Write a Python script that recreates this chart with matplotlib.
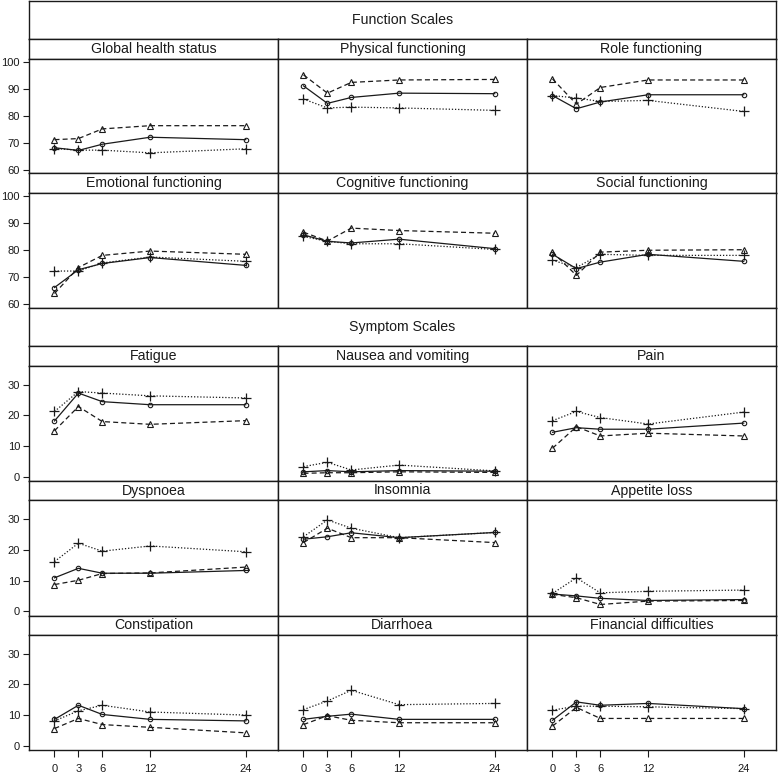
import matplotlib.pyplot as plt

plt.rcParams['font.family'] = ['Liberation Sans', 'DejaVu Sans']

months = [0, 3, 6, 12, 24]

function_titles = ["Global health status", "Physical functioning", "Role functioning",
                   "Emotional functioning", "Cognitive functioning", "Social functioning"]
symptom_titles = ["Fatigue", "Nausea and vomiting", "Pain",
                  "Dyspnoea", "Insomnia", "Appetite loss",
                  "Constipation", "Diarrhoea", "Financial difficulties"]

# one row per scale, function scales first then symptom scales
circle_vals = [
    [68.2, 67.2, 69.5, 72.1, 71.2],
    [91.2, 84.7, 86.9, 88.5, 88.3],
    [87.6, 82.7, 85.2, 87.9, 87.9],
    [66.2, 72.8, 75.1, 77.3, 74.4],
    [85.7, 83.3, 82.7, 84.1, 80.6],
    [78.5, 73.2, 75.6, 78.5, 75.9],
    [18.2, 27.3, 24.5, 23.5, 23.5],
    [1.6, 2.0, 1.6, 2.0, 1.8],
    [14.5, 16.0, 15.5, 15.5, 17.5],
    [10.9, 14.0, 12.4, 12.4, 13.3],
    [23.5, 24.3, 25.6, 24.0, 25.7],
    [5.6, 5.0, 4.2, 3.5, 3.8],
    [8.6, 13.2, 10.2, 8.6, 8.1],
    [8.6, 9.6, 10.3, 8.6, 8.6],
    [8.3, 14.3, 13.2, 13.8, 12.1],
]
triangle_vals = [
    [71.2, 71.6, 75.2, 76.4, 76.4],
    [95.3, 88.5, 92.5, 93.4, 93.6],
    [93.8, 84.4, 90.6, 93.4, 93.4],
    [64.0, 73.6, 78.1, 79.7, 78.5],
    [86.7, 83.4, 88.2, 87.3, 86.3],
    [79.3, 70.7, 79.3, 80.0, 80.2],
    [15.0, 22.9, 18.0, 17.1, 18.3],
    [1.1, 1.3, 1.3, 1.6, 1.4],
    [9.3, 16.3, 13.3, 14.2, 13.3],
    [8.7, 10.1, 12.3, 12.5, 14.4],
    [22.4, 27.1, 24.0, 24.0, 22.4],
    [5.5, 4.4, 2.2, 3.3, 3.5],
    [5.6, 8.9, 6.9, 6.0, 4.2],
    [6.9, 9.8, 8.3, 7.5, 7.5],
    [6.4, 12.5, 8.9, 8.9, 8.9],
]
plus_vals = [
    [67.9, 67.3, 67.3, 66.3, 67.8],
    [86.3, 83.0, 83.3, 83.0, 82.1],
    [87.6, 86.7, 85.4, 85.8, 81.7],
    [72.3, 72.3, 75.3, 77.5, 75.9],
    [85.1, 83.3, 82.4, 82.4, 80.3],
    [76.3, 73.6, 78.5, 78.1, 78.1],
    [21.3, 27.8, 27.3, 26.4, 25.7],
    [3.3, 4.7, 2.2, 3.8, 1.9],
    [18.3, 21.3, 19.3, 17.2, 21.1],
    [16.2, 22.2, 19.6, 21.3, 19.4],
    [24.3, 29.8, 27.1, 24.0, 25.7],
    [5.8, 10.9, 6.0, 6.5, 6.9],
    [8.1, 11.4, 13.2, 11.0, 10.0],
    [11.8, 14.6, 18.1, 13.4, 13.8],
    [11.6, 12.9, 12.9, 12.7, 12.1],
]

W, H = 778, 773
fig = plt.figure(figsize=(W / 100, H / 100), dpi=100)
ink = '#1a1a1a'


def box(x0, y0, x1, y1):
    # pixel box (top-left origin) -> figure fraction
    return [x0 / W, 1 - y1 / H, (x1 - x0) / W, (y1 - y0) / H]


def label_cell(x0, y0, x1, y1, text):
    ax = fig.add_axes(box(x0, y0, x1, y1))
    ax.set_xticks([])
    ax.set_yticks([])
    for s in ax.spines.values():
        s.set_linewidth(1.0)
        s.set_color(ink)
    ax.text(0.5, 0.5, text, ha='center', va='center', fontsize=10.2,
            color=ink, transform=ax.transAxes)
    return ax


cols = [29, 278, 527, 776]

# (section title, header top, header bottom, rows [(strip top, panel top, panel bottom)], ylim, yticks)
sections = [
    ("Function Scales", 1, 39,
     [(39, 59, 173), (173, 193, 307.5)],
     (58.8, 101.2), [60, 70, 80, 90, 100], function_titles),
    ("Symptom Scales", 307.5, 346,
     [(346, 365.5, 481), (481, 500, 615.5), (615.5, 634.5, 750)],
     (-1.4, 36.3), [0, 10, 20, 30], symptom_titles),
]

k = 0
for sec_i, (head, h0, h1, rows, ylim, yticks, titles) in enumerate(sections):
    label_cell(cols[0], h0, cols[3], h1, head)
    for r, (st, pt, pb) in enumerate(rows):
        for c in range(3):
            label_cell(cols[c], st, cols[c + 1], pt, titles[r * 3 + c])
            ax = fig.add_axes(box(cols[c], pt, cols[c + 1], pb))
            ax.plot(months, circle_vals[k], color=ink, lw=0.9, ls='-',
                    marker='o', ms=3.2, mfc='none', mew=0.8)
            ax.plot(months, triangle_vals[k], color=ink, lw=0.9, ls=(0, (4, 2.5)),
                    marker='^', ms=5, mfc='none', mew=0.8)
            ax.plot(months, plus_vals[k], color=ink, lw=0.9, ls=(0, (1, 1.5)),
                    marker='+', ms=7, mew=0.9)
            k += 1
            ax.set_xlim(-3.2, 28.05)
            ax.set_ylim(*ylim)
            for s in ax.spines.values():
                s.set_linewidth(1.0)
                s.set_color(ink)
            ax.tick_params(color=ink, labelcolor=ink, width=0.8)
            if c == 0:
                ax.set_yticks(yticks)
                ax.tick_params(axis='y', direction='out', length=4.5, pad=2, labelsize=8)
            else:
                ax.set_yticks([])
            last = (sec_i == len(sections) - 1 and r == len(rows) - 1)
            if last:
                ax.set_xticks(months)
                ax.tick_params(axis='x', direction='out', length=5, pad=5, labelsize=8)
            else:
                ax.set_xticks([])

fig.savefig('out.png', dpi=100, facecolor='white')
